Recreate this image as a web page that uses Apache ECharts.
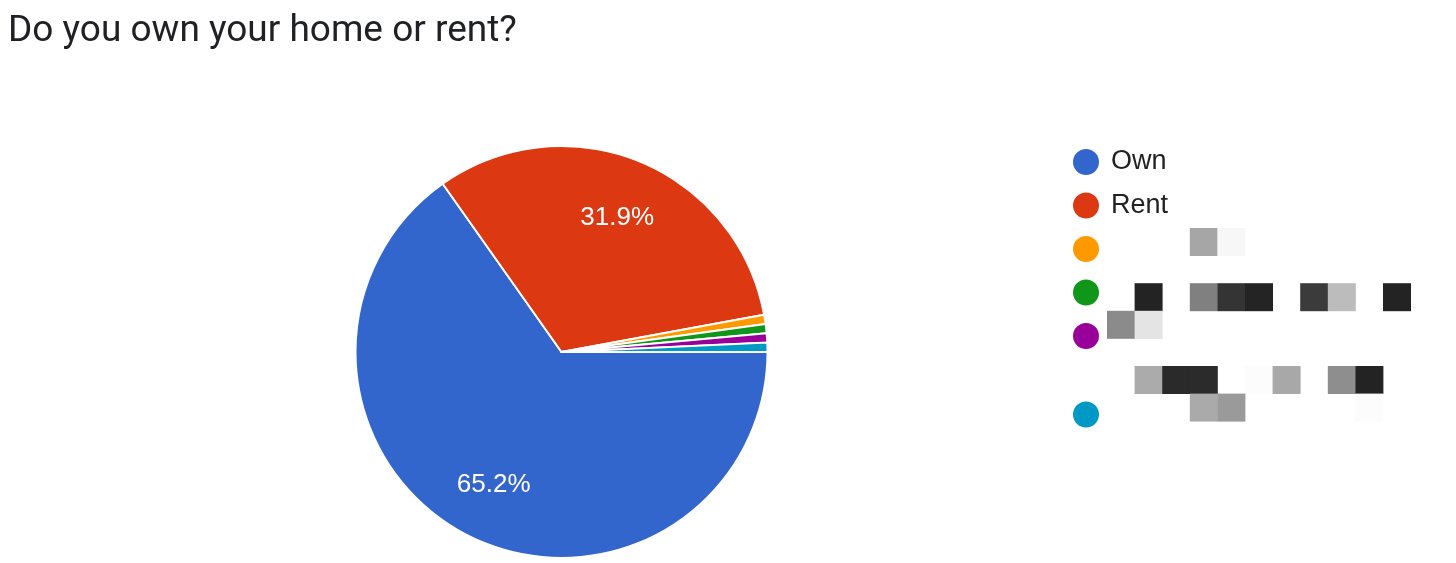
<!DOCTYPE html>
<html>
<head>
<meta charset="utf-8">
<script src="https://cdn.jsdelivr.net/npm/echarts@6/dist/echarts.min.js"></script>
<style>
html,body{margin:0;padding:0;background:#fff;}
#chart{width:1456px;height:563px;}
</style>
</head>
<body>
<div id="chart"></div>
<script>
// ---- data ----
const titleText = 'Do you own your home or rent?';
const categories = ['Own', 'Rent', 'Other A', 'Other B', 'Other C', 'Other D'];
const responses = [90, 44, 1, 1, 1, 1];
const colors = ['#3366cc', '#dc3912', '#ff9900', '#109618', '#990099', '#0099c6'];
const shownLabels = ['Own', 'Rent'];

// redaction mosaic over hidden legend labels: [column, row, grey]
const mosaic = [
  [3,0,'#a6a6a6'],[4,0,'#f7f7f7'],
  [1,2,'#232323'],[3,2,'#808080'],[4,2,'#343434'],[5,2,'#242424'],[7,2,'#3b3b3b'],[8,2,'#bcbcbc'],[10,2,'#232323'],
  [0,3,'#8b8b8b'],[1,3,'#e4e4e4'],
  [1,5,'#ababab'],[2,5,'#2a2a2a'],[3,5,'#2b2b2b'],[5,5,'#fcfcfc'],[6,5,'#a8a8a8'],[8,5,'#8e8e8e'],[9,5,'#232323'],
  [3,6,'#aaaaaa'],[4,6,'#9a9a9a'],[9,6,'#fcfcfc']
];

const chart = echarts.init(document.getElementById('chart'), null, {renderer: 'canvas'});

const pieData = categories.map((c, i) => ({name: c, value: responses[i], itemStyle: {color: colors[i]}}));
const R = 206;
const CX = 561.5, CY = 352;

const cell = 27.6, gx = 1107, gy = 228;
const graphics = mosaic.map(m => ({
  type: 'rect', silent: true,
  shape: {x: gx + m[0] * cell, y: gy + m[1] * cell, width: cell + 0.4, height: cell + 0.4},
  style: {fill: m[2]}
}));

const legendBase = {
  orient: 'vertical', left: 1071, icon: 'circle', padding: 0,
  itemWidth: 28, itemHeight: 28, itemGap: 13.5,
  selectedMode: false,
  formatter: n => shownLabels.includes(n) ? n : '',
  textStyle: {fontFamily: 'Liberation Sans', fontSize: 27, color: '#222222', lineHeight: 27, padding: [0, 0, 0, 6]}
};

chart.setOption({
  backgroundColor: '#ffffff',
  animation: false,
  color: colors,
  title: {
    text: titleText, left: 3, top: 8,
    textStyle: {fontFamily: 'Roboto', fontSize: 37, fontWeight: 'normal', color: '#202124'}
  },
  legend: [
    Object.assign({}, legendBase, {top: 147, data: categories.slice(0, 5)}),
    Object.assign({}, legendBase, {top: 399.5, data: categories.slice(5)})
  ],
  graphic: graphics,
  series: [
    {
      type: 'pie', center: [CX, CY], radius: [0, R],
      startAngle: 0, clockwise: true,
      data: pieData,
      label: {show: false}, labelLine: {show: false},
      itemStyle: {borderColor: '#ffffff', borderWidth: 2},
      emphasis: {disabled: true}, silent: true
    },
    {
      type: 'pie', center: [CX, CY], radius: [83, R],
      startAngle: 0, clockwise: true,
      percentPrecision: 1,
      data: categories.map((c, i) => ({name: c, value: responses[i]})),
      itemStyle: {color: 'rgba(0,0,0,0)', borderWidth: 0},
      label: {
        show: true, position: 'inside', offset: [0, 2],
        fontFamily: 'Liberation Sans', fontSize: 26, color: '#ffffff',
        formatter: p => p.percent >= 5 ? p.percent.toFixed(1) + '%' : ''
      },
      labelLine: {show: false},
      emphasis: {disabled: true}, silent: true
    }
  ]
});
</script>
</body>
</html>
